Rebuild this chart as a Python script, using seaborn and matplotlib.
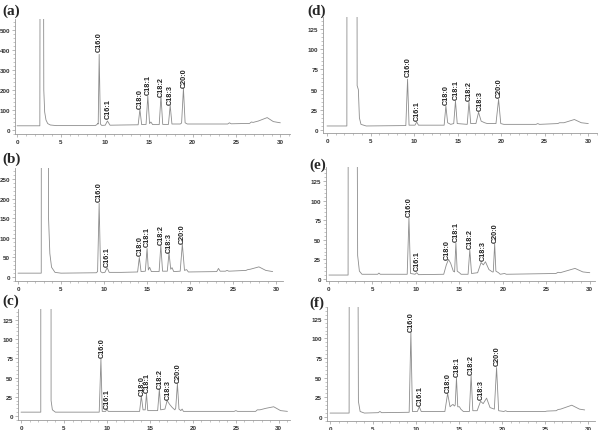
import matplotlib
matplotlib.use("Agg")
import matplotlib.pyplot as plt
import seaborn as sns
from matplotlib.ticker import MultipleLocator

sns.set_style("ticks")
plt.rcParams['font.family'] = ['Liberation Sans', 'DejaVu Sans']

peak_names = ["C16:0", "C16:1", "C18:0", "C18:1", "C18:2", "C18:3", "C20:0"]

# ---- chromatogram traces (retention time [min], detector signal) ----
trace_a = [(0, 21), (2.6, 21), (2.68, 2500), (2.95, 2500), (3.05, 200), (3.15, 90), (3.3, 50),
           (3.5, 32), (3.8, 25), (4.5, 22), (8.9, 22), (9.1, 27), (9.2, 33), (9.25, 30),
           (9.36, 378), (9.5, 30), (9.65, 23), (10.05, 24), (10.3, 45), (10.6, 24), (12.0, 25),
           (13.8, 26), (14.0, 103), (14.2, 27), (14.7, 28), (14.9, 170), (15.1, 32), (15.25, 40),
           (15.45, 27), (16.2, 27), (16.4, 170), (16.6, 28), (17.25, 28), (17.45, 123), (17.65, 30),
           (18.6, 30), (18.75, 35), (18.96, 208), (19.15, 36), (19.4, 30), (24.0, 30), (24.2, 36),
           (24.4, 31), (26.5, 33), (26.7, 40), (26.9, 38), (27.5, 45), (28.5, 62), (29.2, 42),
           (30.0, 36)]
trace_b = [(0, 10), (2.7, 10), (2.75, 2000), (3.45, 2000), (3.55, 150), (3.7, 60), (3.9, 25),
           (4.3, 12), (5.0, 10), (9.1, 11), (9.25, 14), (9.43, 188), (9.6, 14), (9.8, 11),
           (10.1, 12), (10.36, 24), (10.6, 12), (12.0, 12), (13.9, 13), (14.1, 50), (14.3, 14),
           (14.8, 15), (15.0, 73), (15.15, 18), (15.3, 25), (15.5, 14), (16.4, 14), (16.6, 81),
           (16.8, 15), (17.35, 15), (17.55, 62), (17.75, 20), (17.9, 24), (18.1, 14), (18.85, 15),
           (19.1, 84), (19.35, 17), (19.6, 19), (19.8, 13), (23.1, 14), (23.3, 22), (23.5, 15),
           (24.1, 15), (24.3, 17), (24.5, 15), (26.5, 17), (26.7, 19), (27.0, 20), (28.0, 26),
           (28.8, 17), (29.6, 14)]
trace_c = [(0, 5), (2.3, 5), (2.33, 2000), (3.45, 2000), (3.5, 20), (3.65, 8), (4.0, 5), (9.1, 5),
           (9.3, 74), (9.45, 6), (9.85, 6), (10.0, 9), (10.15, 6), (13.8, 6), (14.0, 26), (14.2, 8),
           (14.45, 8), (14.6, 29), (14.75, 7), (15.9, 7), (16.1, 35), (16.25, 8), (16.75, 9),
           (17.0, 20), (17.3, 15), (17.6, 11), (17.9, 8), (18.0, 10), (18.2, 42), (18.38, 9),
           (18.6, 7), (18.75, 9), (18.9, 6), (24.8, 6), (25.0, 7), (25.2, 6), (27.3, 6), (27.5, 8),
           (27.8, 8), (28.5, 10), (29.4, 12), (30.2, 7), (31.0, 6)]
trace_d = [(0, 5), (2.28, 5), (2.3, 500), (3.42, 500), (3.46, 55), (3.6, 50), (3.72, 15), (3.9, 7),
           (4.5, 5), (9.05, 5.5), (9.25, 63), (9.42, 6), (10.1, 6), (10.3, 10), (10.5, 6),
           (13.45, 6), (13.65, 30), (13.85, 9), (14.2, 7), (14.55, 8), (14.75, 36), (14.95, 8),
           (16.1, 7), (16.3, 35), (16.5, 8), (17.1, 8), (17.4, 22), (17.7, 11), (18.1, 9), (18.4, 8),
           (19.4, 8), (19.7, 38), (19.95, 8), (20.3, 7), (24.0, 7), (24.2, 8), (24.4, 7), (26.5, 8),
           (26.7, 9), (27.2, 9), (28.4, 13), (29.2, 9), (30.0, 8)]
trace_e = [(0, 5), (2.2, 5), (2.23, 500), (3.15, 500), (3.3, 30), (3.5, 10), (3.8, 6), (5.6, 6),
           (5.75, 7.5), (5.9, 6), (9.0, 6), (9.2, 78), (9.38, 7), (9.9, 6), (10.1, 8), (10.3, 5.5),
           (13.2, 6), (13.5, 18), (13.75, 25), (14.0, 20), (14.3, 10), (14.45, 9), (14.6, 46),
           (14.75, 10), (15.0, 8), (15.2, 6), (16.0, 6), (16.2, 37), (16.4, 7), (17.1, 8),
           (17.5, 21), (17.75, 18), (18.0, 22), (18.4, 12), (18.8, 9), (18.9, 9), (19.06, 45),
           (19.2, 10), (19.5, 8), (19.7, 6), (20.2, 7), (20.4, 6), (26.1, 7), (26.35, 8.5),
           (26.6, 8), (28.3, 13.5), (29.2, 9), (30.0, 8)]
trace_f = [(0, 5), (2.22, 5), (2.25, 500), (3.17, 500), (3.3, 20), (3.5, 7), (4.0, 5), (5.6, 5.5),
           (5.8, 7), (6.0, 5.5), (9.2, 6), (9.4, 108), (9.58, 7), (10.15, 7), (10.38, 13),
           (10.6, 7), (13.35, 7), (13.67, 30), (13.95, 13), (14.15, 15), (14.3, 16), (14.45, 14),
           (14.55, 15), (14.7, 50), (14.85, 13), (15.05, 13), (15.2, 10), (15.5, 7), (16.2, 7),
           (16.4, 53), (16.6, 8), (17.1, 8), (17.5, 20), (17.8, 17), (18.2, 24), (18.6, 12),
           (19.1, 10), (19.36, 63), (19.6, 8), (20.2, 7), (20.4, 8), (20.6, 7), (25.0, 7),
           (25.2, 7.5), (26.3, 8), (26.5, 9.5), (26.8, 10), (28.1, 15), (29.0, 10), (29.6, 9)]

# ---- peak label anchors (time, signal at text base) ----
lab_x_a = [9.36, 10.35, 14.05, 14.95, 16.45, 17.5, 19.0]
lab_y_a = [395, 58, 112, 178, 172, 128, 215]
lab_x_b = [9.5, 10.4, 14.15, 15.05, 16.65, 17.6, 19.1]
lab_y_b = [193, 28, 55, 78, 84, 65, 87]
lab_x_c = [9.4, 10.0, 14.05, 14.7, 16.2, 17.1, 18.3]
lab_y_c = [77, 11, 27, 31, 37, 22, 44]
lab_x_d = [9.3, 10.35, 13.7, 14.8, 16.35, 17.6, 19.75]
lab_y_d = [67, 13, 32, 39, 37, 25, 41]
lab_x_e = [9.25, 10.2, 13.6, 14.65, 16.25, 17.7, 19.1]
lab_y_e = [81, 12, 26, 48, 39, 24, 47]
lab_x_f = [9.45, 10.45, 13.75, 14.75, 16.45, 17.6, 19.4]
lab_y_f = [110, 15, 32, 52, 55, 23, 66]

y_step = {"a": 100, "b": 50, "c": 25, "d": 25, "e": 25, "f": 25}

W, H = 600, 431
fig = plt.figure(figsize=(6.0, 4.31), dpi=100)

# panel: (pixel box left, right, top, bottom), xlim, ylim
panels = {
    "a": ((15, 290, 20, 135), (-0.23, 31.1), (-20, 555), trace_a, lab_x_a, lab_y_a, (2, 15)),
    "b": ((15, 283, 169, 282), (-0.35, 30.8), (-10, 278), trace_b, lab_x_b, lab_y_b, (2, 163)),
    "c": ((18, 290, 310, 421), (-0.35, 31.3), (-5.2, 139), trace_c, lab_x_c, lab_y_c, (2, 305)),
    "d": ((323, 597, 18, 134), (-0.46, 31.0), (-3.7, 140), trace_d, lab_x_d, lab_y_d, (307, 15)),
    "e": ((326, 595, 168, 282), (-0.34, 30.6), (-2.6, 143), trace_e, lab_x_e, lab_y_e, (309, 169)),
    "f": ((327, 595, 308, 422), (-0.35, 30.8), (-5.1, 140), trace_f, lab_x_f, lab_y_f, (309, 307)),
}

axis_col = "#9a9a9a"
for key, (box, xl, yl, trace, lx, ly, lab_pos) in panels.items():
    l, r, t, b = box
    ax = fig.add_axes([l / W, 1 - b / H, (r - l) / W, (b - t) / H])
    tx = [p[0] for p in trace]
    sy = [p[1] for p in trace]
    sns.lineplot(x=tx, y=sy, ax=ax, color="#8c8c8c", linewidth=0.6, estimator=None, sort=False)
    ax.set_xlim(*xl)
    ax.set_ylim(*yl)
    ax.xaxis.set_major_locator(MultipleLocator(5))
    ax.xaxis.set_minor_locator(MultipleLocator(1))
    ax.yaxis.set_major_locator(MultipleLocator(y_step[key]))
    ax.yaxis.set_minor_locator(MultipleLocator(y_step[key] / 5))
    for s in ("top", "right"):
        ax.spines[s].set_visible(False)
    for s in ("left", "bottom"):
        ax.spines[s].set_color(axis_col)
        ax.spines[s].set_linewidth(0.6)
    ax.tick_params(which="major", length=2.2, width=0.5, color=axis_col, pad=1.2,
                   labelsize=4.5, labelcolor="#333333")
    ax.tick_params(which="minor", length=1.1, width=0.4, color=axis_col)
    for lab in ax.get_xticklabels() + ax.get_yticklabels():
        lab.set_fontweight("bold")
    ax.set_xlabel("")
    ax.set_ylabel("")
    for name, x, y in zip(peak_names, lx, ly):
        ax.text(x, y, name, rotation=90, ha="center", va="bottom", fontsize=5.2,
                fontweight="bold", color="#222222")
    fig.text(lab_pos[0] / W, 1 - lab_pos[1] / H, f"({key})", fontsize=11, fontweight="bold",
             family="Liberation Serif", ha="left", va="baseline")

fig.savefig("out.png", dpi=100)
